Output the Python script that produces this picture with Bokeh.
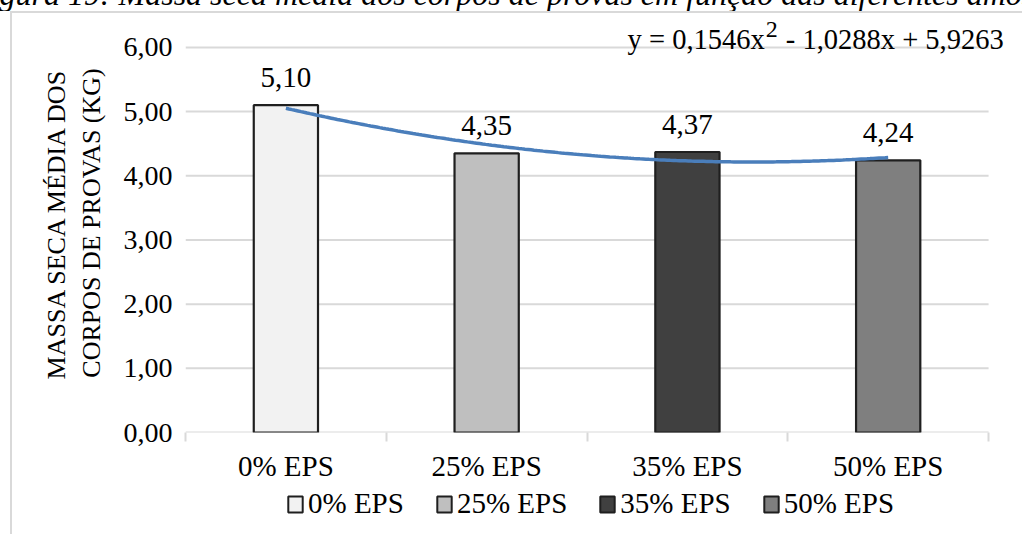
from bokeh.plotting import figure
from bokeh.models import ColumnDataSource, FixedTicker, Legend, LegendItem, Label, Div, Range1d
from bokeh.layouts import column
from bokeh.embed import file_html
from bokeh.resources import INLINE
from bokeh.core.properties import value
import numpy as np

# ---- data ----
categories = ["0% EPS", "25% EPS", "35% EPS", "50% EPS"]
values = [5.10, 4.35, 4.37, 4.24]
value_labels = ["5,10", "4,35", "4,37", "4,24"]
bar_colors = ["#f2f2f2", "#bfbfbf", "#404040", "#7f7f7f"]
y_ticks = [0, 1, 2, 3, 4, 5, 6]
y_tick_labels = ["0,00", "1,00", "2,00", "3,00", "4,00", "5,00", "6,00"]
trend_coef = [0.1546, -1.0288, 5.9263]
equation_parts = ["y = 0,1546x", "2", "- 1,0288x + 5,9263"]
caption = "Figura 19: Massa seca média dos corpos de provas em função das diferentes amostras"
y_title = "MASSA SECA MÉDIA DOS\nCORPOS DE PROVAS (KG)"

FONT = "Liberation Serif"
GRID = "#d9d9d9"
BAR_LINE = "#1f1f1f"
xs = list(range(1, len(categories) + 1))
x_lo, x_hi = xs[0] - 0.5, xs[-1] + 0.5
y_top = y_ticks[-1]

src = ColumnDataSource(dict(x=xs, top=values, color=bar_colors, lab=value_labels, cat=categories))

# ---------------- main chart ----------------
p = figure(width=1010, height=471, x_range=Range1d(x_lo, x_hi + 0.169), y_range=Range1d(0, y_top + 0.528),
           output_backend="svg", toolbar_location=None,
           min_border_left=173, min_border_right=0, min_border_top=0, min_border_bottom=51,
           margin=0)
p.frame_align = False
p.outline_line_color = None
p.xgrid.visible = False
p.ygrid.visible = False

# horizontal gridlines (and the category axis line at 0) spanning the category band only
p.segment(x0=[x_lo] * len(y_ticks), x1=[x_hi] * len(y_ticks), y0=y_ticks, y1=y_ticks,
          line_color=GRID, line_width=2)

bars = p.vbar(x="x", top="top", width=0.32, fill_color="color", line_color=BAR_LINE,
              line_width=2.2, source=src)

xt = np.linspace(xs[0], xs[-1], 200)
yt = np.polyval(trend_coef, xt)
p.line(xt, yt, line_color="#4a7ebb", line_width=3.5)

p.text(x="x", y="top", text="lab", source=src, text_align="center", text_baseline="alphabetic",
       y_offset=-28, text_font=value(FONT), text_font_size="29px", text_color="#000000")

# trendline equation
EQ_SIZE = 28.5
w1 = 4.814 * EQ_SIZE
eq_x = 2.702
eq_y = y_top + 0.125
p.add_layout(Label(x=eq_x, y=eq_y, text=equation_parts[0], text_align="left", text_baseline="alphabetic",
                   text_font=FONT, text_font_size=f"{EQ_SIZE}px", text_color="#000000"))
p.add_layout(Label(x=eq_x, y=eq_y + 0.15, x_offset=w1 + 1, text=equation_parts[1], text_align="left",
                   text_baseline="alphabetic", text_font=FONT, text_font_size="24px", text_color="#000000"))
p.add_layout(Label(x=eq_x, y=eq_y, x_offset=w1 + 21, text=equation_parts[2], text_align="left",
                   text_baseline="alphabetic", text_font=FONT, text_font_size=f"{EQ_SIZE}px",
                   text_color="#000000"))

# x axis
p.xaxis.ticker = FixedTicker(ticks=xs, minor_ticks=[x - 0.5 for x in xs] + [x_hi])
p.xaxis.major_label_overrides = {x: c for x, c in zip(xs, categories)}
p.xaxis.axis_line_color = None
p.xaxis.major_tick_line_color = None
p.xaxis.major_tick_out = 0
p.xaxis.major_tick_in = 0
p.xaxis.minor_tick_line_color = GRID
p.xaxis.minor_tick_line_width = 2
p.xaxis.minor_tick_in = 0
p.xaxis.minor_tick_out = 9
p.xaxis.major_label_standoff = 8
p.xaxis.major_label_text_font = FONT
p.xaxis.major_label_text_font_size = "29px"
p.xaxis.major_label_text_color = "#000000"

# y axis
p.yaxis.ticker = FixedTicker(ticks=y_ticks)
p.yaxis.major_label_overrides = {t: l for t, l in zip(y_ticks, y_tick_labels)}
p.yaxis.axis_line_color = None
p.yaxis.major_tick_line_color = None
p.yaxis.major_tick_out = 0
p.yaxis.minor_tick_line_color = None
p.yaxis.major_label_standoff = 13
p.yaxis.major_label_text_font = FONT
p.yaxis.major_label_text_font_size = "28px"
p.yaxis.major_label_text_color = "#000000"
p.yaxis.axis_label = y_title
p.yaxis.axis_label_text_font = FONT
p.yaxis.axis_label_text_font_style = "normal"
p.yaxis.axis_label_text_font_size = "26px"
p.yaxis.axis_label_text_color = "#000000"
p.yaxis.axis_label_standoff = 15

# ---------------- legend strip ----------------
lg = figure(width=1010, height=50, x_range=Range1d(x_lo, x_hi), y_range=Range1d(0, 1),
            output_backend="svg", toolbar_location=None,
            min_border_left=0, min_border_right=0, min_border_top=0, min_border_bottom=0, margin=0)
lg.frame_align = False
lg.outline_line_color = None
lg.axis.visible = False
lg.grid.visible = False
lg_bars = lg.vbar(x="x", top="top", width=0.32, fill_color="color", line_color=BAR_LINE,
                  line_width=2, source=src)
lg_bars.visible = False
legend = Legend(items=[LegendItem(label=c, renderers=[lg_bars], index=i) for i, c in enumerate(categories)],
                orientation="horizontal", location=(274, 14),
                label_text_font=FONT, label_text_font_size="29px", label_text_color="#000000",
                glyph_width=18, glyph_height=20, label_standoff=4, spacing=31,
                border_line_color=None, background_fill_alpha=0, padding=0, margin=0)
lg.add_layout(legend)

div = Div(text=('<div style="position:relative;top:-22px;left:-29px;white-space:nowrap;'
                'font-family:\'Liberation Serif\';font-style:italic;font-size:32px;line-height:32px;'
                'color:#000">' + caption + '</div>'),
          width=1022, height=11, margin=0, styles={"overflow": "hidden"})

chart = column(p, lg, margin=(0, 0, 0, 10), spacing=0,
               styles={"border-left": "2px solid #d9d9d9", "border-top": "2px solid #d9d9d9"})
layout = column(div, chart, margin=0, spacing=0)
open("out.html", "w").write(file_html(layout, INLINE))
